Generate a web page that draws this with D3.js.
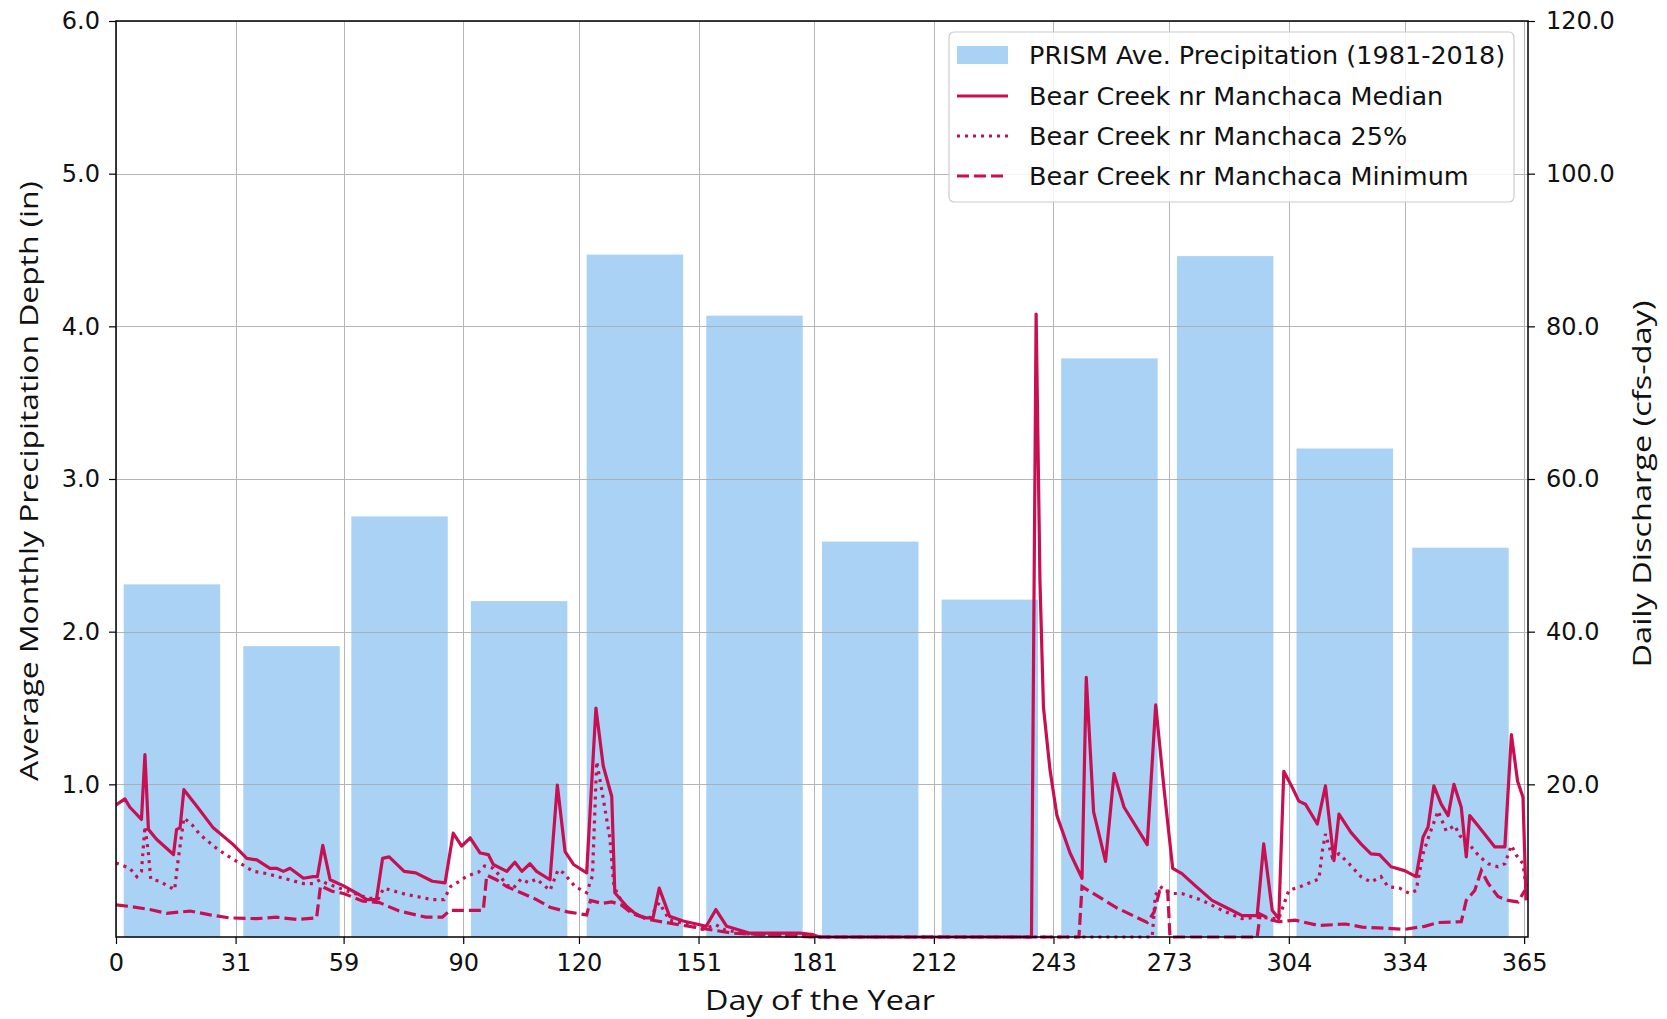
<!DOCTYPE html>
<html>
<head>
<meta charset="utf-8">
<script src="https://cdn.jsdelivr.net/npm/d3@7"></script>
<style>
  html, body { margin: 0; padding: 0; background: #ffffff; }
  svg { display: block; }
</style>
</head>
<body>
<svg id="chart" width="1667" height="1019"></svg>
<script>
// ---------------- DATA ----------------
const monthStarts = [0, 31, 59, 90, 120, 151, 181, 212, 243, 273, 304, 334];
const precipValues = [2.31, 1.905, 2.755, 2.20, 4.47, 4.07, 2.59, 2.21, 3.79, 4.46, 3.20, 2.55];
const xTickValues = [0, 31, 59, 90, 120, 151, 181, 212, 243, 273, 304, 334, 365];
const leftTickValues = [1, 2, 3, 4, 5, 6];
const rightTickValues = [20, 40, 60, 80, 100, 120];

const seriesNames = [
  "PRISM Ave. Precipitation (1981-2018)",
  "Bear Creek nr Manchaca Median",
  "Bear Creek nr Manchaca 25%",
  "Bear Creek nr Manchaca Minimum"
];

// [day, discharge cfs-day]
const medianFlow = [[0,17.3],[2.3,18.1],[3.6,17.0],[6.6,15.4],[7.5,23.9],[8.4,14.1],[10.5,12.8],[14.9,10.8],[15.7,14.1],[16.6,14.3],[17.6,19.3],[21,17.1],[25.2,14.3],[30.4,12.1],[33.9,10.3],[36.5,10.1],[39.9,9.0],[41.6,9.0],[43.4,8.6],[45.1,9.0],[48.6,7.7],[51.1,7.9],[52.2,7.9],[53.6,12.0],[55.5,7.5],[59,6.7],[63.2,5.5],[65,4.9],[67.5,4.9],[69.1,10.3],[70.8,10.5],[74.7,8.6],[77.7,8.4],[82,7.3],[85.3,7.1],[87.4,13.6],[89.6,11.9],[91.8,13.0],[94.4,11.0],[96.5,10.8],[97.8,9.5],[101.3,8.6],[103.4,9.8],[105.2,8.6],[107.3,9.6],[109,8.6],[112.5,7.5],[114.4,19.9],[116.4,11.2],[118.6,9.5],[122,8.4],[124.4,30.0],[126.3,22.4],[128.5,18.4],[129.3,5.8],[132.4,4.0],[135,2.9],[137.5,2.5],[139.2,2.5],[140.8,6.4],[143.5,2.7],[147,2.1],[153,1.4],[155.5,3.6],[158.3,1.4],[164.3,0.5],[177.3,0.5],[180.7,0.3],[182.3,0],[237.3,0],[238.5,81.6],[239.5,46.6],[240.4,30.1],[242.1,21.9],[243.9,15.9],[247.3,11.0],[250.4,7.7],[251.5,34.0],[253.4,16.4],[256.5,9.9],[258.7,21.4],[261.3,17.0],[267.3,12.1],[269.5,30.4],[271.7,19.2],[273.9,9.0],[276.3,8.3],[279.8,6.7],[284.1,4.8],[288.4,3.7],[291.9,2.8],[295.8,2.8],[297.5,12.2],[299.7,3.5],[301.4,2.4],[302.7,21.7],[304.9,19.6],[306.6,17.8],[308.3,17.4],[311.4,14.8],[313.5,19.8],[315.7,10.0],[317,16.1],[320.1,13.7],[322.7,12.2],[325.3,10.9],[327.5,10.8],[330.5,9.2],[334,8.7],[337,7.9],[338.8,13.1],[340.1,14.4],[341.6,19.8],[343.5,17.4],[345.3,15.9],[346.8,20.0],[348.7,17.0],[350,10.5],[350.9,15.9],[353,14.6],[357.4,11.8],[360,11.8],[361.7,26.5],[363.3,20.4],[364.7,18.3],[365.5,4.8]];

const q25Flow = [[0,9.7],[3.6,9.0],[5.4,7.9],[6.6,8.6],[7.5,14.5],[8.4,11],[9,7.6],[11.2,7.3],[13.8,6.6],[15.2,6.2],[15.9,9.3],[17.6,15.6],[19.7,14.7],[21.8,13.4],[26.1,11.6],[28.7,10.7],[33,9.4],[35.6,8.6],[39.1,8.3],[43.4,7.7],[48.6,7.0],[51.1,7.0],[52.9,7.5],[54.6,7.0],[59,6.2],[63.2,5.5],[65,5.1],[68,5.0],[69.4,6.4],[75,5.6],[82,4.9],[85,4.9],[86.7,6.6],[89,7.3],[91,8.0],[94,8.5],[95.5,9.3],[97.8,9.0],[99.5,8.0],[101.3,6.8],[103,6.4],[105,7.6],[107,7.1],[109,7.6],[112.5,6.1],[114.6,8.8],[116,8.4],[119,6.6],[122,5.8],[123.5,8],[124.6,23],[126,19],[128,13],[129,7],[130,5.5],[133,3.5],[138,2.2],[140.8,4.5],[143.5,2.2],[147,1.8],[152,1.0],[155.5,1.6],[158,0.9],[164,0.4],[170,0.3],[180,0.1],[182,0],[268.6,0],[269.4,5.5],[271,6.5],[273.3,5.7],[276.3,5.7],[281.5,4.8],[286.7,3.5],[291.9,2.4],[296,2.6],[301.4,2.4],[304,6.1],[307.5,6.7],[311.8,7.6],[312.7,11.3],[313.5,13.5],[315.3,10.4],[317,10.9],[319.6,9.6],[322.7,7.9],[325.3,7.2],[327.9,7.9],[329.7,6.6],[332.7,6.4],[335.3,5.7],[337,6.1],[338.8,10.9],[340.5,13.5],[342.7,16.5],[344.8,13.9],[347,14.6],[348.3,13.3],[351.3,11.8],[353.5,10.5],[355.7,9.6],[358.2,9.2],[360,9.6],[361.7,12.0],[363,10.7],[364.7,9.6],[365.5,6.6]];

const minFlow = [[0,4.2],[3.6,4.0],[8.8,3.6],[13.1,3.1],[19.2,3.4],[24.4,2.9],[29.5,2.5],[36.5,2.4],[41.6,2.6],[46.8,2.3],[52,2.5],[53,6.7],[56,6.0],[59,5.7],[64,4.7],[68.3,4.5],[73.4,3.4],[80.3,2.6],[84.6,2.6],[86.6,3.5],[95.2,3.5],[96.1,8.1],[98.6,7.5],[101.3,6.6],[105,5.8],[109,4.9],[112.5,3.9],[117,3.3],[122,2.9],[123,4.8],[126,4.4],[128.5,4.6],[131,4.2],[133.7,3.1],[138,2.3],[146,1.6],[151,1.2],[160,0.5],[168.5,0.3],[177,0.1],[180,0],[249.6,0],[250.4,6.6],[259.5,3.8],[267.3,1.9],[269.1,3.3],[270.5,6.0],[272.6,6.0],[273.2,0],[295.8,0],[296.6,3.0],[299.7,2.2],[301.4,2.0],[305.7,2.2],[311.8,1.5],[318.7,1.7],[323,1.3],[327.1,1.2],[334,1.0],[339.2,1.4],[342.7,1.9],[348.7,2.0],[350,4.8],[352.2,6.1],[353.9,8.7],[355.7,7.0],[358.2,5.3],[360.8,4.8],[363.4,4.6],[365.2,6.1]];

// ---------------- LAYOUT ----------------
const L = 116, R = 1528, T = 21, B = 937;
const barColor = "#a9d2f5";
const lineColor = "#c80f52";
const lineW = 3.2;
const tickFont = "DejaVu Sans";
const labelFont = "'Open Sans', 'Noto Sans', sans-serif";

const svg = d3.select("#chart");
svg.append("rect").attr("width", 1667).attr("height", 1019).attr("fill", "#fff");

const x = d3.scaleLinear().domain([0, 366]).range([L, R]);
const yL = d3.scaleLinear().domain([0, 6]).range([B, T]);
const yR = d3.scaleLinear().domain([0, 120]).range([B, T]);

// bars
svg.append("g").selectAll("rect").data(precipValues).join("rect")
  .attr("x", (d, i) => x(monthStarts[i] + 2))
  .attr("width", (d, i) => x(monthStarts[i] + 27) - x(monthStarts[i] + 2))
  .attr("y", d => yL(d))
  .attr("height", d => yL(0) - yL(d))
  .attr("fill", barColor);

// grid
const grid = svg.append("g").attr("stroke", "#a9a9a9").attr("stroke-width", 1).attr("opacity", 0.85);
grid.selectAll("line.v").data(xTickValues).join("line")
  .attr("x1", d => Math.round(x(d)) + 0.5).attr("x2", d => Math.round(x(d)) + 0.5)
  .attr("y1", T).attr("y2", B);
grid.selectAll("line.h").data(leftTickValues).join("line")
  .attr("x1", L).attr("x2", R)
  .attr("y1", d => Math.round(yL(d)) + 0.5).attr("y2", d => Math.round(yL(d)) + 0.5);

// lines
const line = d3.line().x(d => x(d[0])).y(d => yR(d[1]));
svg.append("clipPath").attr("id", "plotclip").append("rect")
  .attr("x", L).attr("y", T).attr("width", R - L).attr("height", B - T + 2);
const lg = svg.append("g").attr("clip-path", "url(#plotclip)");
lg.append("path").datum(medianFlow).attr("d", line)
  .attr("fill", "none").attr("stroke", lineColor).attr("stroke-width", lineW).attr("stroke-linejoin", "round");
lg.append("path").datum(q25Flow).attr("d", line)
  .attr("fill", "none").attr("stroke", lineColor).attr("stroke-width", lineW).attr("stroke-dasharray", "3,5");
lg.append("path").datum(minFlow).attr("d", line)
  .attr("fill", "none").attr("stroke", lineColor).attr("stroke-width", lineW).attr("stroke-dasharray", "12,5");

// axes
const axB = svg.append("g").attr("transform", `translate(0,${B})`)
  .call(d3.axisBottom(x).tickValues(xTickValues).tickFormat(d3.format("d")).tickSize(7).tickPadding(10));
const axL = svg.append("g").attr("transform", `translate(${L},0)`)
  .call(d3.axisLeft(yL).tickValues(leftTickValues).tickFormat(d3.format(".1f")).tickSize(7).tickPadding(9));
const axR = svg.append("g").attr("transform", `translate(${R},0)`)
  .call(d3.axisRight(yR).tickValues(rightTickValues).tickFormat(d3.format(".1f")).tickSize(7).tickPadding(11));
[axB, axL, axR].forEach(a => {
  a.select(".domain").remove();
  a.selectAll(".tick line").attr("stroke", "#000").attr("stroke-width", 1.2);
  a.selectAll(".tick text").attr("font-family", tickFont).attr("font-size", 24).attr("fill", "#111");
});

// frame
svg.append("rect").attr("x", L).attr("y", T).attr("width", R - L).attr("height", B - T)
  .attr("fill", "none").attr("stroke", "#000").attr("stroke-width", 1.5);

// axis labels
svg.append("text").attr("x", 820).attr("y", 1010).attr("text-anchor", "middle")
  .attr("font-family", labelFont).attr("font-size", 27).attr("fill", "#111")
  .attr("textLength", 230).attr("lengthAdjust", "spacingAndGlyphs")
  .text("Day of the Year");
svg.append("text").attr("transform", "translate(28,481) rotate(-90)").attr("text-anchor", "middle")
  .attr("dominant-baseline", "central")
  .attr("font-family", labelFont).attr("font-size", 26).attr("fill", "#111")
  .attr("textLength", 600).attr("lengthAdjust", "spacingAndGlyphs")
  .text("Average Monthly Precipitation Depth (in)");
svg.append("text").attr("transform", "translate(1641,484) rotate(-90)").attr("text-anchor", "middle")
  .attr("dominant-baseline", "central")
  .attr("font-family", labelFont).attr("font-size", 26).attr("fill", "#111")
  .attr("textLength", 367).attr("lengthAdjust", "spacingAndGlyphs")
  .text("Daily Discharge (cfs-day)");

// legend
const leg = svg.append("g");
leg.append("rect").attr("x", 949).attr("y", 32).attr("width", 565).attr("height", 170)
  .attr("rx", 5).attr("fill", "#fff").attr("fill-opacity", 0.85).attr("stroke", "#cccccc").attr("stroke-width", 1.2);
const rowY = [55, 96, 136, 176];
leg.append("rect").attr("x", 957).attr("y", rowY[0] - 9).attr("width", 51).attr("height", 18).attr("fill", barColor);
const dashes = [null, "3,5", "12,5"];
[1, 2, 3].forEach(i => {
  const l = leg.append("line").attr("x1", 957).attr("x2", 1008).attr("y1", rowY[i]).attr("y2", rowY[i])
    .attr("stroke", lineColor).attr("stroke-width", lineW);
  if (dashes[i - 1]) l.attr("stroke-dasharray", dashes[i - 1]);
});
leg.selectAll("text").data(seriesNames).join("text")
  .attr("x", 1029).attr("y", (d, i) => rowY[i]).attr("dominant-baseline", "central")
  .attr("font-family", tickFont).attr("font-size", 25.5).attr("fill", "#111")
  .text(d => d);
</script>
</body>
</html>
